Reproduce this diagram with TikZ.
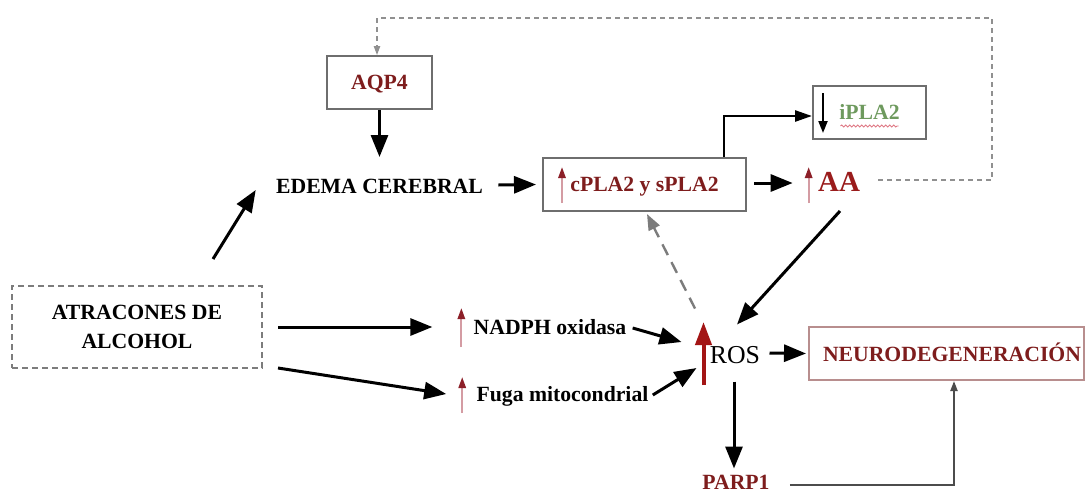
\documentclass[tikz,border=0pt]{standalone}
\usepackage{fontspec}
\setmainfont{Liberation Serif}
\usetikzlibrary{arrows.meta,decorations.pathmorphing}
\definecolor{darkred}{HTML}{7E1D1D}
\definecolor{aared}{HTML}{9A1C1C}
\definecolor{rosred}{HTML}{A31515}
\definecolor{tipred}{HTML}{8C1F28}
\definecolor{shaftpink}{HTML}{D49CA3}
\definecolor{ipgreen}{HTML}{6E9A5E}
\definecolor{boxgray}{HTML}{6E6E6E}
\definecolor{neurobox}{HTML}{B88E8E}
\definecolor{dashgray}{HTML}{7C7C7C}
\definecolor{squig}{HTML}{E07A86}

\begin{document}
\begin{tikzpicture}[x=0.5pt,y=-0.5pt,
  base/.style={font=\fontsize{10.85pt}{14.5pt}\selectfont\bfseries},
  txt/.style={base, inner sep=0pt, text height=0.66em, text depth=0pt},
  box/.style={txt, draw=boxgray, line width=1pt, minimum height=26.5pt},
  arr/.style={line width=1.5pt, -{Triangle[length=11pt,width=8.5pt]}},
  midarr/.style={line width=1.3pt, -{Triangle[length=8.5pt,width=5.5pt]}},
  thinarr/.style={draw=black!70, line width=1pt, -{Triangle[length=5pt,width=3.5pt]}},
  dasharr/.style={draw=dashgray, line width=1.2pt, dash pattern=on 6pt off 4pt,
    -{Triangle[length=8pt,width=6pt]}},
  fbline/.style={draw=dashgray!85, line width=0.6pt, dash pattern=on 2.5pt off 2pt,
    -{Triangle[length=4.5pt,width=3.2pt]}},
  redup/.style={draw=shaftpink, line width=1.1pt,
    -{Triangle[length=5.5pt,width=3.6pt,color=tipred]}},
  rosup/.style={draw=rosred, line width=2pt, -{Triangle[length=11.5pt,width=8pt]}},
  downind/.style={line width=1pt, -{Triangle[length=6pt,width=4.5pt]}}
]
\useasboundingbox (0,0) rectangle (1087,493);
\fill[white] (0,0) rectangle (1087,493);

% ---- nodes ----
\node[box, minimum width=52.5pt, text=darkred] (aqp) at (379.5,82.5) {AQP4};
\node[txt] (edema) at (379.5,187) {EDEMA CEREBRAL};
\node[base, draw=dashgray, line width=1pt, dash pattern=on 3pt off 2pt,
      align=center, inner sep=0pt, minimum width=125pt, minimum height=41pt]
      (atr) at (137,327) {ATRACONES DE\\ALCOHOL};
\node[box, minimum width=101.5pt, text=darkred] (cpla) at (644.5,184.5) {cPLA2 y sPLA2};
\node[box, minimum width=56.5pt, text=ipgreen] (ipla) at (869.5,112.5) {iPLA2};
\node[txt, font=\fontsize{14.5pt}{17pt}\selectfont\bfseries, text=aared] (aa) at (839,185) {AA};
\node[txt] (nadph) at (550,328) {NADPH oxidasa};
\node[txt] (fuga) at (562.5,395) {Fuga mitocondrial};
\node[txt, font=\fontsize{12.9pt}{15pt}\selectfont] (ros) at (735,357) {ROS};
\node[draw=neurobox, line width=1pt, minimum width=137.5pt, minimum height=26.5pt,
      inner sep=0pt] (neuro) at (946.5,353.5) {};
\node[txt, text=darkred] (neurotxt) at (952,355) {NEURODEGENERACIÓN};
\node[txt, text=darkred] (parp) at (736,483) {PARP1};

% ---- increase / decrease indicators ----
\draw[redup] ([shift={(-82.5,18.5)}]cpla.center) -- ([shift={(-82.5,-17.5)}]cpla.center);
\draw[redup] ([shift={(-9,18)}]aa.west) -- ([shift={(-9,-18)}]aa.west);
\draw[redup] ([shift={(-12,19)}]nadph.west) -- ([shift={(-12,-20)}]nadph.west);
\draw[redup] ([shift={(-14,18)}]fuga.west) -- ([shift={(-14,-18)}]fuga.west);
\draw[rosup] ([shift={(-6,28)}]ros.west) -- ([shift={(-6,-35)}]ros.west);
\draw[downind] ([shift={(-46.5,-19.5)}]ipla.center) -- ([shift={(-46.5,20.5)}]ipla.center);
\draw[squig, line width=0.45pt, decorate,
      decoration={snake, amplitude=0.5pt, segment length=2pt}]
  ([shift={(-29,13.5)}]ipla.center) -- ([shift={(29,13.5)}]ipla.center);

% ---- connectors ----
\draw[arr] (aqp) -- ([shift={(0,-23)}]edema.north);
\draw[arr] ([shift={(76,-26)}]atr.north) -- ([shift={(-20,3)}]edema.west);
\draw[arr] ([shift={(15,0)}]atr.east) -- ([shift={(-41,-1)}]nadph.west);
\draw[arr] ([shift={(15,41)}]atr.east) -- ([shift={(-30,-1)}]fuga.west);
\draw[arr] ([shift={(15,-2)}]edema.east) -- ([shift={(-6,0)}]cpla.west);
\draw[midarr] ([shift={(-23,0)}]cpla.north east) |- ([shift={(0,3.5)}]ipla.west);
\draw[arr] ([shift={(7,-1.5)}]cpla.east) -- ([shift={(-25,-2)}]aa.west);
\draw[arr] ([shift={(1,19)}]aa.south) -- ([shift={(2,-25.5)}]ros.north);
\draw[dasharr] ([shift={(-40,-41.5)}]ros.north) -- ([shift={(2.5,2)}]cpla.south);
\draw[arr] ([shift={(6,0)}]nadph.east) -- ([shift={(-28,-15)}]ros.west);
\draw[arr] ([shift={(4,0)}]fuga.east) -- ([shift={(-13,11)}]ros.west);
\draw[arr] ([shift={(9,-4)}]ros.east) -- ([shift={(-2,0)}]neuro.west);
\draw[arr] ([shift={(-1,17.5)}]ros.south) -- ([shift={(-2,-7.5)}]parp.north);
\draw[thinarr] ([shift={(20,2)}]parp.east) -| ([shift={(7.5,0)}]neuro.south);
\coordinate (fbcorner) at (992,18);
\draw[fbline] ([shift={(18,-5)}]aa.east) -| (fbcorner) -| ([xshift=-1.25pt]aqp.north);
\end{tikzpicture}
\end{document}
